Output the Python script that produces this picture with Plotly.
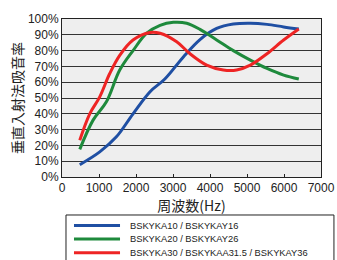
import plotly.graph_objects as go

freq_blue = [480, 1020, 1470, 1920, 2380, 2780, 3280, 3730, 4180, 4630, 5090, 5540, 5990, 6400]
abs_blue = [7.8, 15.9, 25.4, 40, 54, 62, 76, 87, 94, 96.8, 97.3, 96.6, 95, 93.7]

freq_green = [480, 840, 1200, 1560, 1920, 2290, 2650, 3010, 3370, 3730, 4180, 4630, 5090, 5540, 5990, 6400]
abs_green = [17.5, 36, 47.6, 67.7, 80, 91, 96, 97.9, 97.3, 93.4, 86.7, 80, 74, 68.7, 64.5, 62]

freq_red = [480, 750, 1020, 1290, 1560, 1920, 2380, 2650, 3100, 3460, 3910, 4360, 4720, 5090, 5540, 5990, 6400]
abs_red = [23.3, 40, 50.7, 65.5, 77, 86.7, 91.5, 91, 85.6, 78, 70.8, 67.7, 67.7, 70.8, 78, 86.7, 93.7]

names = ["BSKYKA10 / BSKYKAY16", "BSKYKA20 / BSKYKAY26", "BSKYKA30 / BSKYKAA31.5 / BSKYKAY36"]
colors = ["#1f4fa3", "#1e8a3c", "#ee2424"]

fig = go.Figure()
for f, a, n, c in [(freq_blue, abs_blue, names[0], colors[0]),
                   (freq_green, abs_green, names[1], colors[1]),
                   (freq_red, abs_red, names[2], colors[2])]:
    fig.add_trace(go.Scatter(x=f, y=a, name=n, mode="lines", showlegend=False,
                             line=dict(color=c, width=3, shape="spline", smoothing=1.0)))

# custom legend (box, swatches, labels) placed below the plot in paper coordinates
fig.add_shape(type="rect", xref="paper", yref="paper", x0=0.0154, x1=1.050,
              y0=-0.60, y1=-0.2405, line=dict(color="#222", width=1),
              fillcolor="white", layer="above")
row_y = [-0.307, -0.392, -0.479]
for n, c, yy in zip(names, colors, row_y):
    fig.add_shape(type="line", xref="paper", yref="paper", x0=0.0463, x1=0.224,
                  y0=yy, y1=yy, line=dict(color=c, width=3), layer="above")
    fig.add_annotation(xref="paper", yref="paper", x=0.2548, y=yy, text=n,
                       showarrow=False, xanchor="left", yanchor="middle",
                       font=dict(size=9.3, family="Liberation Sans, Arial, sans-serif",
                                 color="#222"))

fig.update_layout(
    width=337, height=260,
    margin=dict(l=62, r=16, t=19, b=83, autoexpand=False),
    paper_bgcolor="white", plot_bgcolor="#eeeeee",
    font=dict(family="Liberation Sans, Arial, sans-serif", color="#222", size=12),
    showlegend=False,
    xaxis=dict(range=[0, 7000], dtick=1000, showgrid=False, showline=True,
               linecolor="#222", linewidth=1, mirror=True, ticks="inside",
               ticklen=3, tickcolor="#222", zeroline=False,
               title=dict(text="周波数(Hz)", standoff=2,
                          font=dict(size=14, family="Noto Sans CJK JP, sans-serif"))),
    yaxis=dict(range=[0, 100], dtick=10, ticksuffix="%", showgrid=True,
               gridcolor="#333", gridwidth=1, showline=True, linecolor="#222",
               linewidth=1, mirror=True, zeroline=False, ticks="",
               title=dict(text="垂直入射法吸音率", standoff=0,
                          font=dict(size=14, family="Noto Sans CJK JP, sans-serif"))),
)

fig.write_html("out.html", config={"displayModeBar": False},
               post_script="document.body.style.margin='0';")
